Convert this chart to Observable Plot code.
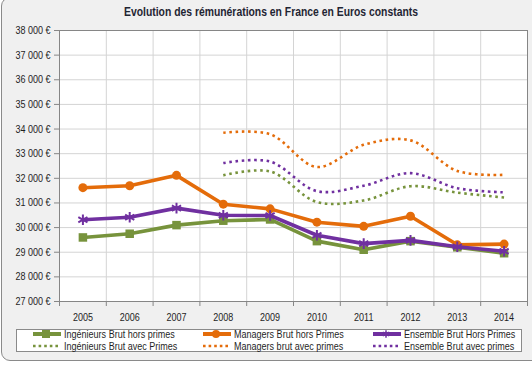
<!DOCTYPE html>
<html>
<head>
<meta charset="utf-8">
<script src="https://cdn.jsdelivr.net/npm/d3@7"></script>
<script src="https://cdn.jsdelivr.net/npm/@observablehq/plot@0.6"></script>
<style>
  html, body { margin: 0; padding: 0; background: #ffffff; }
  body { width: 532px; height: 374px; overflow: hidden; position: relative;
         font-family: "Liberation Sans", Arial, sans-serif; }
  #frame { position: absolute; left: 1px; top: -3px; width: 560px; height: 364px;
           background: #f0f0f0; border: 1px solid #8a8a8a; border-radius: 9px; box-sizing: border-box; }
  #title { position: absolute; top: 5px; left: 0; width: 542px; text-align: center;
           font-size: 12.5px; font-weight: bold; color: #1f2533;
           transform: scaleX(0.83); transform-origin: 271px 0; }
  #chart { position: absolute; left: 0; top: 0; }
  #legend { position: absolute; left: 16px; top: 329px; width: 506px; height: 23px;
            background: #ffffff; border: 1px solid #8a8a8a; box-sizing: border-box; }
  .item { position: absolute; height: 12px; display: flex; align-items: center;
          font-size: 11px; color: #1f1f1f; white-space: nowrap; }
  .item svg { margin-right: 2px; flex: none; }
  .item span { display: inline-block; transform: scaleX(0.82); transform-origin: 0 50%; }
</style>
</head>
<body>
<div id="frame"></div>
<div id="title">Evolution des rémunérations en France en Euros constants</div>
<div id="chart"></div>
<div id="legend"></div>
<script>
const years = [2005, 2006, 2007, 2008, 2009, 2010, 2011, 2012, 2013, 2014];
const ingHors = [29600, 29750, 30100, 30280, 30330, 29450, 29100, 29450, 29200, 28960];
const mgrHors = [31620, 31700, 32120, 30950, 30760, 30220, 30050, 30460, 29300, 29330];
const ensHors = [30320, 30420, 30790, 30500, 30490, 29690, 29350, 29480, 29220, 29040];
const yearsAvec = [2008, 2009, 2010, 2011, 2012, 2013, 2014];
const ingAvec = [32120, 32280, 31040, 31100, 31680, 31420, 31220];
const mgrAvec = [33850, 33790, 32460, 33360, 33540, 32300, 32140];
const ensAvec = [32620, 32680, 31480, 31700, 32210, 31600, 31430];
const yTicks = [27000, 28000, 29000, 30000, 31000, 32000, 33000, 34000, 35000, 36000, 37000, 38000];
const seriesNames = ["Ingénieurs Brut hors primes", "Managers Brut hors Primes", "Ensemble Brut Hors Primes",
                     "Ingénieurs Brut avec Primes", "Managers brut avec primes", "Ensemble Brut avec primes"];

const GREEN = "#77933c", ORANGE = "#e46c0a", PURPLE = "#7030a0";
const fmt = d => String(d).replace(/(\d)(?=(\d{3})+$)/g, "$1 ") + " €";

const solid = (xs, ys) => xs.map((x, i) => ({year: x, value: ys[i]}));
const dIng = solid(years, ingHors), dMgr = solid(years, mgrHors), dEns = solid(years, ensHors);
const aIng = solid(yearsAvec, ingAvec), aMgr = solid(yearsAvec, mgrAvec), aEns = solid(yearsAvec, ensAvec);
const bounds = d3.range(years.length + 1).map(i => years[0] - 0.5 + i);
const inner = bounds.slice(1, -1);

const dotted = {strokeWidth: 2.6, strokeDasharray: "2.6 3.6", strokeLinecap: "butt", curve: "catmull-rom"};
const chart = Plot.plot({
  width: 532, height: 322,
  marginLeft: 59, marginRight: 5, marginTop: 30, marginBottom: 21,
  style: {background: "transparent", fontFamily: '"Liberation Sans", Arial, sans-serif', fontSize: "11px", color: "#1f1f1f"},
  x: {domain: [bounds[0], bounds[bounds.length - 1]]},
  y: {domain: [27000, 38000]},
  marks: [
    Plot.frame({fill: "white", stroke: null}),
    Plot.gridY(yTicks, {stroke: "#d4d4d4", strokeOpacity: 1}),
    Plot.gridX(inner, {stroke: "#d4d4d4", strokeOpacity: 1}),
    Plot.frame({stroke: "#868686"}),
    Plot.axisY(yTicks, {tickSize: 5, tickPadding: 4, tickFormat: fmt, stroke: "#868686", fill: "#1f1f1f", label: null}),
    Plot.axisX(bounds, {tickSize: 5, tickFormat: () => "", stroke: "#868686", label: null}),
    Plot.axisX(years, {tickSize: 0, tickPadding: 12, tickFormat: d => String(d), fill: "#1f1f1f", label: null}),
    Plot.lineY(aIng, {x: "year", y: "value", stroke: GREEN, ...dotted}),
    Plot.lineY(aMgr, {x: "year", y: "value", stroke: ORANGE, ...dotted}),
    Plot.lineY(aEns, {x: "year", y: "value", stroke: PURPLE, ...dotted}),
    Plot.lineY(dIng, {x: "year", y: "value", stroke: GREEN, strokeWidth: 3.6}),
    Plot.dot(dIng, {x: "year", y: "value", symbol: "square", r: 4.8, fill: GREEN, stroke: null}),
    Plot.lineY(dMgr, {x: "year", y: "value", stroke: ORANGE, strokeWidth: 3.6}),
    Plot.dot(dMgr, {x: "year", y: "value", symbol: "circle", r: 4.5, fill: ORANGE, stroke: null}),
    Plot.lineY(dEns, {x: "year", y: "value", stroke: PURPLE, strokeWidth: 3.6}),
    Plot.dot(dEns, {x: "year", y: "value", symbol: "asterisk", r: 5, stroke: PURPLE, strokeWidth: 2})
  ]
});
// condense tick label glyphs horizontally (keeps anchors in place)
chart.querySelectorAll("text").forEach(t => {
  const tr = t.getAttribute("transform") || "";
  t.setAttribute("transform", (tr + " scale(0.82,1)").trim());
});
document.getElementById("chart").appendChild(chart);

// Legend
const legend = document.getElementById("legend");
const items = [
  {name: seriesNames[0], color: GREEN, kind: "square", x: 15, y: 4},
  {name: seriesNames[1], color: ORANGE, kind: "circle", x: 185, y: 4},
  {name: seriesNames[2], color: PURPLE, kind: "asterisk", x: 355, y: 4},
  {name: seriesNames[3], color: GREEN, kind: "dots", x: 15, y: 16},
  {name: seriesNames[4], color: ORANGE, kind: "dots", x: 185, y: 16},
  {name: seriesNames[5], color: PURPLE, kind: "dots", x: 355, y: 16}
];
for (const it of items) {
  const div = document.createElement("div");
  div.className = "item";
  div.style.left = it.x + "px";
  div.style.top = (it.y - 6) + "px";
  const svg = d3.create("svg").attr("width", 30).attr("height", 12);
  if (it.kind === "dots") {
    svg.append("line").attr("x1", 1).attr("x2", 28).attr("y1", 6).attr("y2", 6)
      .attr("stroke", it.color).attr("stroke-width", 2.6).attr("stroke-dasharray", "2.6 3");
  } else {
    svg.append("line").attr("x1", 1).attr("x2", 29).attr("y1", 6).attr("y2", 6)
      .attr("stroke", it.color).attr("stroke-width", 4);
    if (it.kind === "square") svg.append("rect").attr("x", 10).attr("y", 2).attr("width", 8).attr("height", 8).attr("fill", it.color);
    if (it.kind === "circle") svg.append("circle").attr("cx", 14).attr("cy", 6).attr("r", 4).attr("fill", it.color);
    if (it.kind === "asterisk") svg.append("path").attr("d", d3.symbol(d3.symbolAsterisk, 40)()).attr("transform", "translate(14,6)")
      .attr("stroke", it.color).attr("stroke-width", 1.5).attr("fill", "none");
  }
  div.appendChild(svg.node());
  const span = document.createElement("span");
  span.textContent = it.name;
  div.appendChild(span);
  legend.appendChild(div);
}
</script>
</body>
</html>
